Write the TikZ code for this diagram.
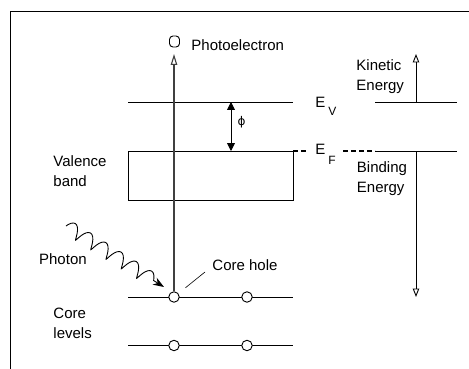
\documentclass[tikz,border=0pt]{standalone}
\usepackage{fontspec}
\setmainfont{Liberation Sans}
\newfontfamily\symfont{DejaVu Sans}
\usetikzlibrary{arrows.meta,positioning,decorations.pathmorphing}

\begin{document}
\begin{tikzpicture}[x=1pt,y=-1pt,line width=0.9pt,
    font=\fontsize{15}{20}\selectfont,
    hole/.style={circle,draw,fill=white,inner sep=0pt,minimum size=10.5pt},
    txt/.style={inner sep=0pt,align=left},
    up/.style={-{Triangle[open,length=8.5pt,width=6.5pt]}}]
  \useasboundingbox (0,0) rectangle (469,369);
  \draw[line width=1.3pt] (10.5,369) -- (10.5,11.5) -- (469,11.5);

  % vacuum level and valence band
  \coordinate (evl) at (128,102);
  \coordinate (evr) at (293,102);
  \draw (evl) -- (evr);
  \node[draw,inner sep=0pt,outer sep=0pt,minimum width=165pt,minimum height=49pt,
        anchor=north west] (vb) at (128,151) {};
  \node[txt,anchor=north west] (vblbl) at (53,155.5) {Valence\\band};

  % core levels
  \coordinate (ca) at (128,297.5);
  \coordinate (cb) at (293,297.5);
  \coordinate (cc) at (128,345.5);
  \coordinate (cd) at (293,345.5);
  \draw (ca) -- (cb);
  \draw (cc) -- (cd);
  \node[hole] (h11) at (174,297) {};
  \node[hole] (h12) at (247,297) {};
  \node[hole] (h21) at (174,345.5) {};
  \node[hole] (h22) at (247,345.5) {};
  \node[txt,anchor=north west] (corelbl) at (53,308) {Core\\levels};

  % photoelectron
  \node[draw,rounded corners=3.5pt,inner sep=0pt,minimum width=10pt,minimum height=11pt]
       (pe) at (174.5,41.5) {};
  \node[anchor=base west,inner sep=0pt] (pelbl) at (191,50.5) {Photoelectron};
  \coordinate (petip) at (174,54);
  \draw[black!75,line width=1.1pt,-{Triangle[open,length=11pt,width=6.5pt]}] (h11) -- (petip);

  % work function
  \coordinate (phitop) at (231,102);
  \coordinate (phibot) at (vb.north -| phitop);
  \draw[{Triangle[length=8pt,width=8pt]}-{Triangle[length=8pt,width=8pt]}] (phitop) -- (phibot);
  \node[inner sep=0pt] (phi) at (241.5,122) {\symfont\fontsize{12}{12}\selectfont ϕ};

  % level labels
  \node[anchor=base west,inner sep=0pt] (evlbl) at (315,107.5)
       {E\kern3pt\raisebox{-8pt}{\fontsize{12}{12}\selectfont V}};
  \node[anchor=base west,inner sep=0pt] (eflbl) at (315,154.5)
       {E\kern3pt\raisebox{-10pt}{\fontsize{12}{12}\selectfont F}};
  \coordinate (efa) at (308,151);
  \coordinate (efb) at (343,151);
  \coordinate (efc) at (375,151);
  \coordinate (efd) at (457,151);
  \draw[line width=1.3pt,dash pattern=on 5pt off 3pt] (vb.north east) -- (efa);
  \draw[line width=1.3pt,dash pattern=on 5pt off 3pt] (efb) -- (efc);
  \draw (efc) -- (efd);

  % energy scale
  \coordinate (kva) at (375,102);
  \coordinate (kvb) at (457,102);
  \draw (kva) -- (kvb);
  \coordinate (ke) at (416,102);
  \coordinate (ketip) at (416,54);
  \draw[up] (ke) -- (ketip);
  \node[txt,anchor=north west] (kelbl) at (356,59.3) {Kinetic\\Energy};
  \coordinate (be) at (416,151);
  \coordinate (betip) at (416,297);
  \draw[up] (be) -- (betip);
  \node[txt,anchor=north west] (belbl) at (356.5,161) {Binding\\Energy};

  % photon
  \coordinate (phs) at (66,226);
  \coordinate (phe) at (164,287);
  \draw[decorate,decoration={coil,aspect=0.3,amplitude=7pt,segment length=18pt,post length=9pt},
        -{Stealth[length=11pt,width=8pt]}] (phs) -- (phe);
  \node[anchor=base west,inner sep=0pt] (phlbl) at (38.7,264) {Photon};

  % core hole
  \node[anchor=base west,inner sep=0pt] (chlbl) at (212,270) {Core hole};
  \coordinate (chend) at (205,272);
  \draw[line width=0.6pt,shorten <=9pt] (h11) -- (chend);
\end{tikzpicture}
\end{document}
